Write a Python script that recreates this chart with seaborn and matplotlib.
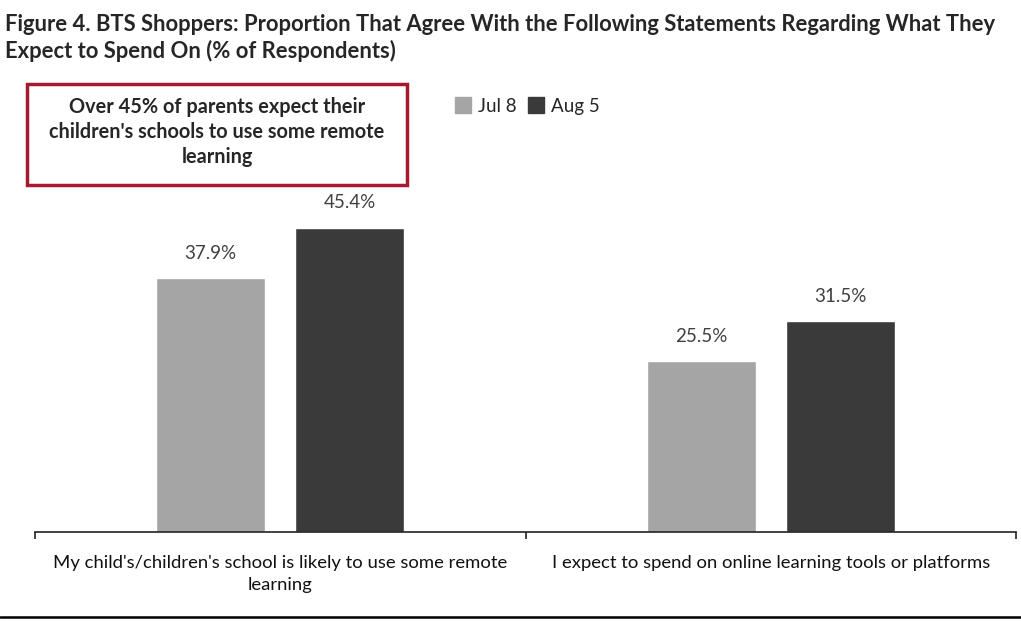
import pandas as pd
import numpy as np
import seaborn as sns
import matplotlib.pyplot as plt
from matplotlib.patches import Rectangle
from matplotlib.lines import Line2D

# data
categories = ["My child's/children's school is likely to use some remote\nlearning",
              "I expect to spend on online learning tools or platforms"]
series = ["Jul 8", "Aug 5"]
jul8 = [37.9, 25.5]
aug5 = [45.4, 31.5]
colors = ["#A5A5A5", "#3A3A3A"]

df = pd.DataFrame({
    "Statement": categories * 2,
    "Survey": [series[0]] * 2 + [series[1]] * 2,
    "Pct": jul8 + aug5,
})

sns.set_theme(style="white")
plt.rcParams['font.family'] = ['Lato', 'DejaVu Sans']

fig = plt.figure(figsize=(10.21, 6.22), dpi=100)
ax = fig.add_axes([0.0343, 0.1447, 0.9608, 0.7263])

sns.barplot(data=df, x="Statement", y="Pct", hue="Survey", order=categories,
            hue_order=series, palette=colors, width=0.567, gap=0.217,
            saturation=1, ax=ax, legend=False)

for cont in ax.containers:
    ax.bar_label(cont, labels=[f"{v:.1f}%" for v in cont.datavalues],
                 padding=12, fontsize=13.5, color="#404040")

ax.set_ylim(0, 67.5)
ax.set_xlim(-0.5, 1.5)
ax.set_xlabel("")
ax.set_ylabel("")
ax.set_yticks([])
for s in ["top", "right", "left"]:
    ax.spines[s].set_visible(False)
ax.spines["bottom"].set_color("#222222")
ax.spines["bottom"].set_linewidth(1.2)

# category labels between boundary ticks
ax.set_xticks([-0.5, 0.5, 1.5])
ax.set_xticklabels([])
ax.tick_params(axis="x", direction="out", length=5, width=1.2, color="#222222", bottom=True)
for i, lab in enumerate(categories):
    ax.text(i, -3.5, lab, ha="center", va="top", fontsize=13.3, color="#111111",
            linespacing=1.45)

# legend
handles = [Line2D([], [], marker="s", linestyle="", markersize=11,
                  markerfacecolor=c, markeredgecolor=c) for c in colors]
fig.legend(handles, series, loc="center left", bbox_to_anchor=(0.43, 0.829),
           ncol=2, frameon=False, fontsize=13.5, handletextpad=0.4,
           columnspacing=0.6, handlelength=0.8)

# callout box
fig.patches.append(Rectangle((27 / 1021, 1 - 185 / 622), 380 / 1021, 101 / 622,
                             transform=fig.transFigure, fill=False,
                             edgecolor="#A6192E", linewidth=2.5))
fig.text(217 / 1021, 1 - 132 / 622,
         "Over 45% of parents expect their\nchildren's schools to use some remote\nlearning",
         ha="center", va="center", fontsize=14.3, fontweight="bold", linespacing=1.3)

# title
fig.text(5 / 1021, 1 - 14 / 622,
         "Figure 4. BTS Shoppers: Proportion That Agree With the Following Statements Regarding What They\nExpect to Spend On (% of Respondents)",
         ha="left", va="top", fontsize=15.8, fontweight="bold", linespacing=1.3)

# bottom rule
fig.add_artist(Line2D([0, 1], [1 - 617 / 622, 1 - 617 / 622], transform=fig.transFigure,
                      color="black", linewidth=1.8))

fig.savefig("out.png", dpi=100)
